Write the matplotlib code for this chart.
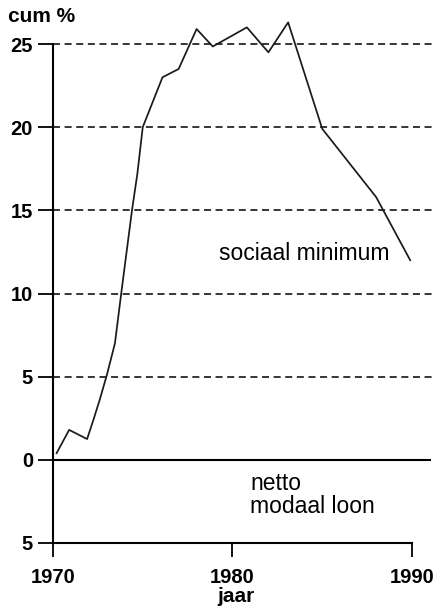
import matplotlib
matplotlib.use("Agg")
import matplotlib.pyplot as plt

# Data
years = [1970.2, 1970.9, 1971.9, 1972.25, 1972.6, 1973.0, 1973.45, 1973.8, 1974.4, 1974.7,
         1975.0, 1976.1, 1977.0, 1978.0, 1978.9, 1980.8, 1982.0, 1983.1,
         1985.0, 1988.0, 1989.9]
values = [0.4, 1.8, 1.25, 2.4, 3.6, 5.1, 7.0, 10.0, 15.0, 17.2,
          20.0, 23.0, 23.5, 25.9, 24.85, 26.0, 24.5, 26.3,
          19.9, 15.8, 12.0]

y_ticks = [25, 20, 15, 10, 5, 0, -5]
y_ticklabels = ["25", "20", "15", "10", "5", "0", "5"]
x_ticks = [1970, 1980, 1990]
x_ticklabels = ["1970", "1980", "1990"]
grid_levels = [5, 10, 15, 20, 25]

W, H = 433, 611
fig = plt.figure(figsize=(W / 100, H / 100), dpi=100)
fig.patch.set_facecolor("white")

L, R, T, B = 53, 433, 44, 543
ax = fig.add_axes([L / W, 1 - B / H, (R - L) / W, (B - T) / H])
ax.set_xlim(1970, 1991.17)
ax.set_ylim(-5, 25)
ax.set_facecolor("none")

FONT = "Liberation Sans"

# spines
for s in ["top", "right"]:
    ax.spines[s].set_visible(False)
ax.spines["left"].set_linewidth(1.5)
ax.spines["bottom"].set_linewidth(1.5)
ax.spines["bottom"].set_bounds(1970, 1990)

# dashed gridlines
for g in grid_levels:
    ax.axhline(g, color="black", lw=1.1, linestyle=(0, (4.6, 3.0)), zorder=1, clip_on=False)

# zero line
ax.plot([1970, 1991.0], [0, 0], color="black", lw=1.5, clip_on=False, zorder=2)

# data line
ax.plot(years, values, color="#1a1a1a", lw=1.25, zorder=3, clip_on=False)

# ticks
ax.set_yticks(y_ticks)
ax.set_yticklabels(y_ticklabels, fontfamily=FONT, fontsize=14.5, fontweight="bold")
ax.set_xticks(x_ticks)
ax.set_xticklabels(x_ticklabels, fontfamily=FONT, fontsize=14.5, fontweight="bold")
ax.tick_params(axis="y", direction="out", length=10.8, width=1.3, pad=3.6, colors="black")
ax.tick_params(axis="x", direction="out", length=10.0, width=1.3, pad=8, colors="black")

# labels
fig.text(8 / W, 1 - 22 / H, "cum %", fontfamily=FONT, fontsize=15, fontweight="bold",
         ha="left", va="baseline")
fig.text(236 / W, 1 - 602 / H, "jaar", fontfamily=FONT, fontsize=15, fontweight="bold",
         ha="center", va="baseline")

ax.text(1979.25, 12.02, "sociaal minimum", fontfamily=FONT, fontsize=16.5,
        ha="left", va="baseline")
ax.text(1981.0, -1.80, "netto", fontfamily=FONT, fontsize=16.5, ha="left", va="baseline")
ax.text(1981.0, -3.19, "modaal loon", fontfamily=FONT, fontsize=16.5, ha="left", va="baseline")

fig.savefig("out.png", dpi=100, facecolor="white")
